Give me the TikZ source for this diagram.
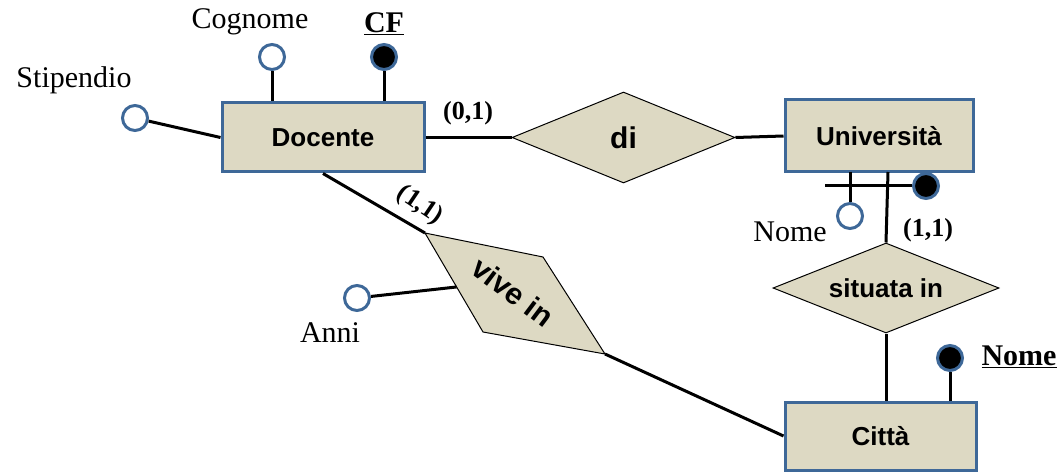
\documentclass[tikz,border=0pt]{standalone}
\usepackage{fontspec}
\setmainfont{Liberation Serif}
\newfontfamily\arialf{Liberation Sans}
\usetikzlibrary{shapes.geometric,calc}
\definecolor{ebeige}{RGB}{221,217,195}
\definecolor{eblue}{RGB}{62,104,152}
\tikzset{
  entity/.style={draw=eblue,line width=3pt,fill=ebeige,font=\arialf\bfseries\fontsize{26}{28}\selectfont,inner sep=0pt},
  rel/.style={diamond,draw=black,line width=1pt,fill=ebeige,font=\arialf\bfseries\fontsize{26}{28}\selectfont,inner sep=0pt},
  attr/.style={circle,draw=eblue,line width=3pt,fill=white,minimum size=25pt,inner sep=0pt},
  keyattr/.style={attr,fill=black},
  lbl/.style={font=\fontsize{30}{32}\selectfont,inner sep=0pt},
  card/.style={font=\bfseries\fontsize{26}{28}\selectfont,inner sep=0pt},
  conn/.style={line width=3pt,black}
}
\begin{document}
\begin{tikzpicture}[x=1pt,y=-1pt]
\useasboundingbox (0,0) rectangle (1062,473);
% entities
\node[entity,minimum width=202pt,minimum height=69pt] (doc) at (323,137.5) {Docente};
\node[entity,minimum width=188pt,minimum height=72pt] (uni) at (879,136) {Università};
\node[entity,minimum width=191pt,minimum height=68pt] (citta) at (880.5,436) {Città};
% relationships
\node[rel,aspect=2.45,minimum width=223pt,minimum height=91pt,font=\arialf\bfseries\fontsize{30}{32}\selectfont] (di) at (623.5,137.5) {di};
\node[rel,aspect=2.51,minimum width=226pt,minimum height=90pt] (sit) at (886,288) {situata in};
\coordinate (vA) at (425,233);
\coordinate (vB) at (543,257);
\coordinate (vC) at (605,354);
\coordinate (vD) at (483,332);
\filldraw[fill=ebeige,draw=black,line width=1pt] (vA) -- (vB) -- (vC) -- (vD) -- cycle;
\node[font=\arialf\bfseries\fontsize{30}{32}\selectfont,rotate=-37,inner sep=0pt] (vive) at (513,292) {vive in};
% attributes
\node[attr] (stip) at (135,118) {};
\node[attr] (cogn) at (272,57) {};
\node[keyattr] (cf) at (384,57) {};
\node[attr] (unome) at (850,216) {};
\node[keyattr] (ukey) at (926,186) {};
\node[keyattr] (cnome) at (950,358) {};
\node[attr] (anni) at (357,298) {};
% connectors
\draw[conn] (stip) -- (doc.west);
\draw[conn] (cogn) -- (cogn |- doc.north);
\draw[conn] (cf) -- (cf |- doc.north);
\draw[conn] (doc.east) -- (di.west);
\draw[conn] (di.east) -- (uni.west);
\draw[conn] (doc.south) -- (vA);
\draw[conn] (vC) -- (citta.west);
\draw[conn] (anni) -- ($(vA)!0.545!(vD)$);
\coordinate (ub1) at (850,172);
\coordinate (ub2) at (888,172);
\coordinate (hl) at (825,186);
\draw[conn] (ub1) -- (unome);
\draw[conn] (ub2) -- (sit.north);
\draw[conn] (hl) -- (ukey);
\draw[conn] (sit.south) -- (sit.south |- citta.north);
\draw[conn] (cnome) -- (cnome |- citta.north);
% labels
\node[lbl] (lcogn) at (250,22) {Cognome};
\node[lbl,font=\bfseries\fontsize{30}{32}\selectfont] (lcf) at (384,24) {\underline{CF}};
\node[lbl] (lstip) at (74,80) {Stipendio};
\node[card] (c01) at (468,113) {(0,1)};
\node[lbl] (lunome) at (790,232) {Nome};
\node[card] (c11a) at (928,230) {(1,1)};
\node[lbl,font=\bfseries\fontsize{30}{32}\selectfont] (lcnome) at (1019,357) {\underline{Nome}};
\node[lbl] (lanni) at (330,333) {Anni};
\node[card,rotate=-34] (c11b) at (420,205) {(1,1)};
\end{tikzpicture}
\end{document}
